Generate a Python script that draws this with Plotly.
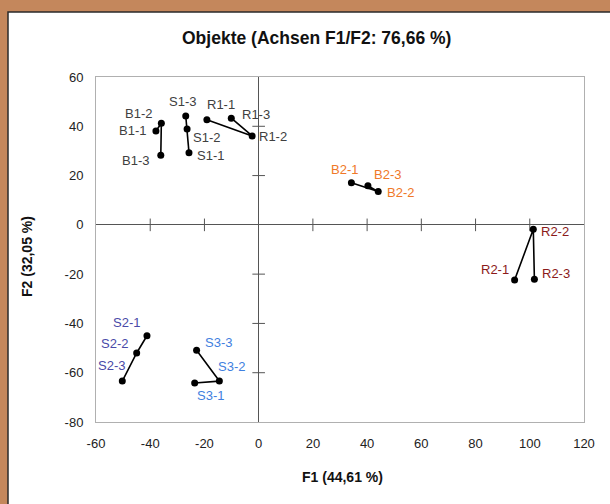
import plotly.graph_objects as go

# ---- data ----
groups = ["B1", "S1", "R1", "B2", "R2", "S2", "S3"]
labels = {
    "B1": ["B1-1", "B1-2", "B1-3"],
    "S1": ["S1-1", "S1-2", "S1-3"],
    "R1": ["R1-1", "R1-2", "R1-3"],
    "B2": ["B2-1", "B2-2", "B2-3"],
    "R2": ["R2-1", "R2-2", "R2-3"],
    "S2": ["S2-1", "S2-2", "S2-3"],
    "S3": ["S3-1", "S3-2", "S3-3"],
}
f1 = {
    "B1": [-37.9, -35.9, -36.1],
    "S1": [-25.7, -26.4, -26.9],
    "R1": [-19.1, -2.4, -10.1],
    "B2": [34.2, 44.1, 40.3],
    "R2": [94.4, 101.3, 101.7],
    "S2": [-41.2, -45.0, -50.3],
    "S3": [-23.6, -14.5, -22.9],
}
f2 = {
    "B1": [38.1, 41.2, 28.2],
    "S1": [29.3, 38.9, 44.2],
    "R1": [42.7, 36.1, 43.3],
    "B2": [17.1, 13.5, 15.9],
    "R2": [-22.4, -1.8, -22.1],
    "S2": [-45.0, -52.0, -63.4],
    "S3": [-64.2, -63.4, -50.9],
}
x_ticks = [-60, -40, -20, 0, 20, 40, 60, 80, 100, 120]
y_ticks = [-80, -60, -40, -20, 0, 20, 40, 60]

# ---- styles ----
label_colors = {
    "B1": "#404040", "S1": "#404040", "R1": "#404040",
    "B2": "#f07828", "R2": "#8b1a1a", "S2": "#4a4aa8", "S3": "#3f7fe0",
}
# label offsets in pixels (dx, dy-up)
label_offsets = {
    "B1": [(-23, 0), (-23, 10), (-25, -5)],
    "S1": [(22, -3), (19, -8), (-3, 14)],
    "R1": [(14, 15), (21, -1), (25, 4)],
    "B2": [(-7, 13), (22, -1), (20, 11)],
    "R2": [(-20, 11), (22, -2), (22, 6)],
    "S2": [(-20, 13), (-22, 10), (-11, 16)],
    "S3": [(16, -12), (12, 15), (22, 8)],
}
FONT = "Liberation Sans, Arial, sans-serif"

W, H = 610, 504
L, R, T, B = 96, 26, 77, 82
pw, ph = W - L - R, H - T - B

fig = go.Figure()

# tick marks crossing the zero axes
xt_inner = [v for v in x_ticks if v not in (x_ticks[0], 0, x_ticks[-1])]
yt_inner = [v for v in y_ticks if v not in (y_ticks[0], 0, y_ticks[-1])]
fig.add_trace(go.Scatter(
    x=xt_inner, y=[0] * len(xt_inner),
    mode="markers", hoverinfo="skip", showlegend=False,
    marker=dict(symbol="line-ns-open", size=9, color="#555555",
                line=dict(color="#555555", width=1))))
fig.add_trace(go.Scatter(
    x=[0] * len(yt_inner), y=yt_inner,
    mode="markers", hoverinfo="skip", showlegend=False,
    marker=dict(symbol="line-ew-open", size=9, color="#555555",
                line=dict(color="#555555", width=1))))

for g in groups:
    fig.add_trace(go.Scatter(
        x=f1[g], y=f2[g], mode="lines+markers", showlegend=False,
        line=dict(color="black", width=1.6),
        marker=dict(color="black", size=7),
        text=labels[g], hoverinfo="text"))
    for xv, yv, t, (dx, dy) in zip(f1[g], f2[g], labels[g], label_offsets[g]):
        fig.add_annotation(x=xv, y=yv, text=t, showarrow=False,
                           xshift=dx, yshift=dy, xanchor="center", yanchor="middle",
                           font=dict(family=FONT, size=13, color=label_colors[g]))

# white panel over the wooden background
px = lambda p: (p - L) / pw
py = lambda p: (H - B - p) / ph
fig.add_shape(type="rect", xref="paper", yref="paper", layer="below",
              x0=px(8), x1=px(W + 20), y0=py(H + 20), y1=py(12),
              fillcolor="white", line=dict(color="#2a2a2a", width=1.5))

# titles
fig.add_annotation(xref="paper", yref="paper", x=px(316), y=py(38),
                   xanchor="center", yanchor="middle",
                   text="<b>Objekte (Achsen F1/F2: 76,66 %)</b>", showarrow=False,
                   font=dict(family=FONT, size=17.5, color="#111111"))
fig.add_annotation(xref="paper", yref="paper", x=px(342), y=py(477),
                   xanchor="center", yanchor="middle",
                   text="<b>F1 (44,61 %)</b>", showarrow=False,
                   font=dict(family=FONT, size=14, color="#111111"))
fig.add_annotation(xref="paper", yref="paper", x=px(27), y=py(257),
                   xanchor="center", yanchor="middle",
                   text="<b>F2 (32,05 %)</b>", showarrow=False, textangle=-90,
                   font=dict(family=FONT, size=14, color="#111111"))

axis_common = dict(showgrid=False, zeroline=True, zerolinecolor="#555555",
                   zerolinewidth=1, showline=True, linecolor="#b0b0b0",
                   linewidth=1, mirror=True, ticks="outside", ticklen=9,
                   tickcolor="rgba(0,0,0,0)",
                   tickfont=dict(family=FONT, size=13, color="#222222"))

fig.update_layout(
    width=W, height=H,
    margin=dict(l=L, r=R, t=T, b=B),
    paper_bgcolor="#c4875c",
    plot_bgcolor="white",
    xaxis=dict(range=[-60, 120], tickvals=x_ticks,
               ticktext=[str(v) for v in x_ticks], **axis_common),
    yaxis=dict(range=[-80, 60], tickvals=y_ticks,
               ticktext=[str(v) for v in y_ticks], **axis_common),
)

fig.write_html("out.html")
